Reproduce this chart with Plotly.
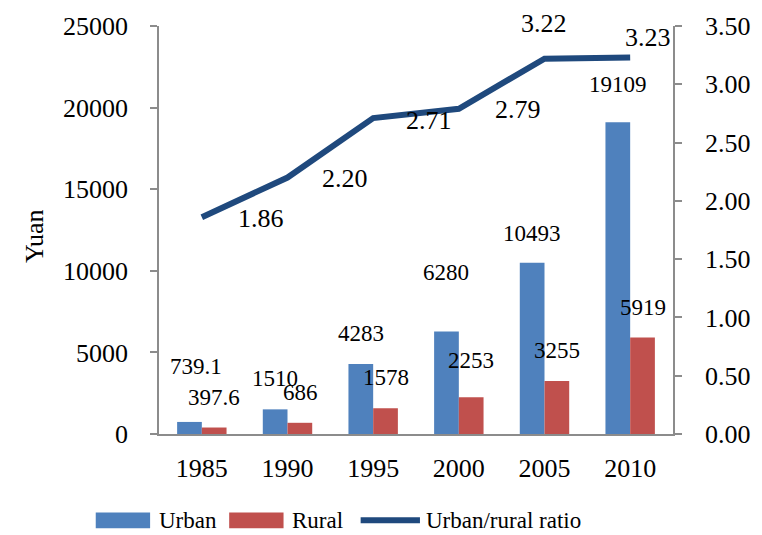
import plotly.graph_objects as go

years = ["1985", "1990", "1995", "2000", "2005", "2010"]
urban = [739.1, 1510, 4283, 6280, 10493, 19109]
rural = [397.6, 686, 1578, 2253, 3255, 5919]
ratio = [1.86, 2.20, 2.71, 2.79, 3.22, 3.23]

urban_labels = ["739.1", "1510", "4283", "6280", "10493", "19109"]
rural_labels = ["397.6", "686", "1578", "2253", "3255", "5919"]
ratio_labels = ["1.86", "2.20", "2.71", "2.79", "3.22", "3.23"]

# label offsets (pixels) as drawn in the original chart
urban_dy = [55, 31, 31, 59, 29, 38]
urban_dx = [7, 0, 0, 0, 0, 0]
rural_dy = [30, 30, 31, 37, 30, 30]
ratio_dx = [59, 57, 56, 59, -1, 18]
ratio_dy = [-1, -1, -2, -1, 35, 20]

BLUE = "#4F81BD"
RED = "#C0504D"
NAVY = "#1F497D"
FONT = "Liberation Serif"
AX = "#8C8C8C"

fig = go.Figure()
fig.add_trace(go.Bar(x=years, y=urban, name="Urban", marker=dict(color=BLUE, line=dict(width=0)),
                     hoverinfo="skip"))
fig.add_trace(go.Bar(x=years, y=rural, name="Rural", marker=dict(color=RED, line=dict(width=0)),
                     hoverinfo="skip"))
fig.add_trace(go.Scatter(x=years, y=ratio, name="Urban/rural ratio", yaxis="y2", mode="lines",
                         line=dict(color=NAVY, width=6), hoverinfo="skip"))

ann = []
for i, y in enumerate(years):
    ann.append(dict(x=i, y=urban[i], xref="x", yref="y", text=urban_labels[i], showarrow=False,
                    xshift=-12.5 + urban_dx[i], yshift=urban_dy[i],
                    font=dict(family=FONT, size=23, color="black")))
    ann.append(dict(x=i, y=rural[i], xref="x", yref="y", text=rural_labels[i], showarrow=False,
                    xshift=12.5, yshift=rural_dy[i],
                    font=dict(family=FONT, size=23, color="black")))
    ann.append(dict(x=i, y=ratio[i], xref="x", yref="y2", text=ratio_labels[i], showarrow=False,
                    xshift=ratio_dx[i], yshift=ratio_dy[i],
                    font=dict(family=FONT, size=26, color="black")))

W, H = 762, 535
L, R, T, B = 159, 83, 23, 101
pw, ph = W - L - R, H - T - B
def px(xp):
    return (xp - L) / pw
def py(yp):
    return (H - B - yp) / ph

# y axis title
ann.append(dict(x=px(33), y=py(235), xref="paper", yref="paper", text="Yuan", textangle=-90,
                xanchor="center", yanchor="middle",
                showarrow=False, font=dict(family=FONT, size=26, color="black")))

# manual legend
shapes = []
leg_items = [("Urban", BLUE, "rect", 95, 150, 157),
             ("Rural", RED, "rect", 230, 285, 292),
             ("Urban/rural ratio", NAVY, "line", 363, 423, 427)]
ly = 521
for name, col, kind, x0, x1, tx in leg_items:
    if kind == "rect":
        shapes.append(dict(type="rect", xref="paper", yref="paper", x0=px(x0), x1=px(x1),
                           y0=py(ly + 8), y1=py(ly - 8), fillcolor=col, line=dict(width=0)))
    else:
        shapes.append(dict(type="line", xref="paper", yref="paper", x0=px(x0), x1=px(x1),
                           y0=py(ly), y1=py(ly), line=dict(color=col, width=6)))
    ann.append(dict(x=px(tx), y=py(ly), xref="paper", yref="paper", text=name, showarrow=False,
                    xanchor="left", yanchor="middle",
                    font=dict(family=FONT, size=23, color="black")))

fig.update_layout(
    width=W, height=H,
    margin=dict(l=L, r=R, t=T, b=B, pad=0),
    paper_bgcolor="white", plot_bgcolor="white",
    barmode="group", bargap=0.423, bargroupgap=0,
    showlegend=False,
    font=dict(family=FONT, size=26, color="black"),
    xaxis=dict(type="category", range=[-0.5, 5.5], showline=True, linecolor=AX, linewidth=1.5,
               ticks="", showgrid=False, tickfont=dict(family=FONT, size=26, color="black"),
               ticklabelstandoff=10, fixedrange=True),
    yaxis=dict(range=[0, 25000], dtick=5000, tickformat="d", showline=True, linecolor=AX,
               linewidth=1.5, ticks="outside", ticklen=7, tickcolor=AX, tickwidth=1.5,
               showgrid=False, zeroline=False, tickfont=dict(family=FONT, size=26, color="black"),
               ticklabelstandoff=17, fixedrange=True),
    yaxis2=dict(range=[0, 3.5], dtick=0.5, tickformat=".2f", overlaying="y", side="right",
                showline=True, linecolor=AX, linewidth=1.5, ticks="outside", ticklen=7,
                tickcolor=AX, tickwidth=1.5, showgrid=False, zeroline=False,
                tickfont=dict(family=FONT, size=26, color="black"),
                ticklabelstandoff=18, fixedrange=True),
    annotations=ann,
    shapes=shapes,
)

fig.write_html("out.html", config={"displayModeBar": False},
               post_script="document.body.style.margin='0';document.body.style.overflow='hidden';")
